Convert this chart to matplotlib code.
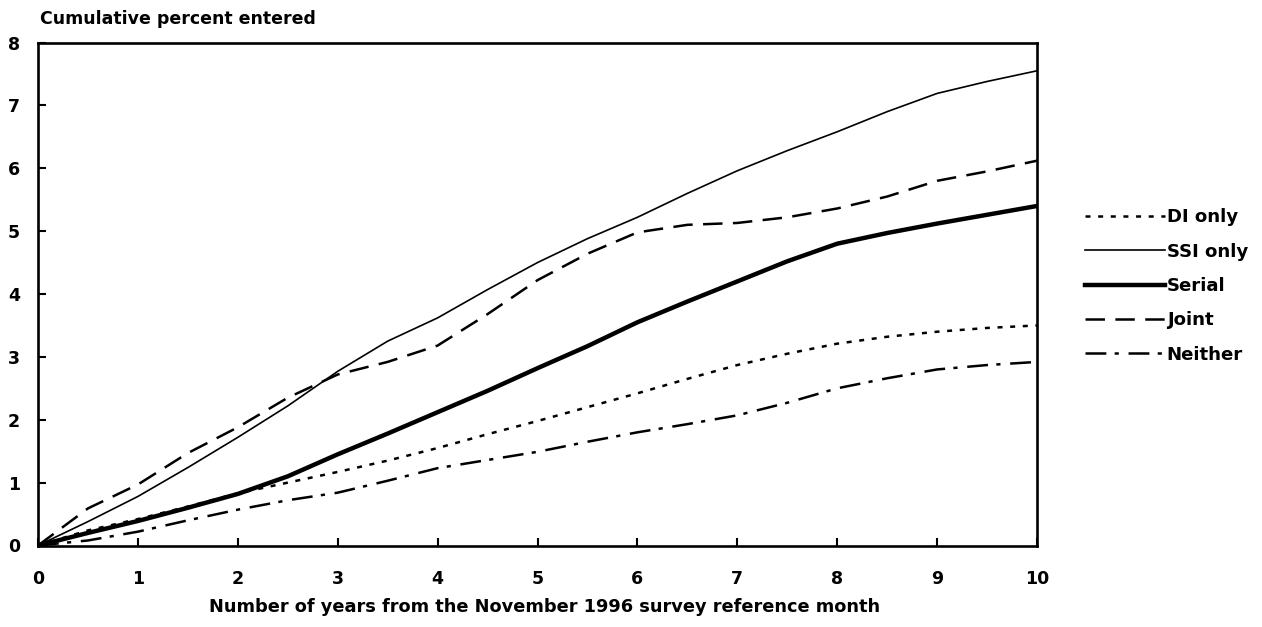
import matplotlib
matplotlib.use("Agg")
import matplotlib.pyplot as plt

plt.rcParams['font.family'] = ['DejaVu Sans']
plt.rcParams['font.weight'] = 'bold'
plt.rcParams['lines.scale_dashes'] = False

years = [0, 0.5, 1, 1.5, 2, 2.5, 3, 3.5, 4, 4.5, 5, 5.5, 6, 6.5, 7, 7.5, 8, 8.5, 9, 9.5, 10]
di_only = [0, 0.24, 0.42, 0.62, 0.83, 1.0, 1.17, 1.35, 1.55, 1.77, 1.98, 2.2, 2.42, 2.65, 2.87, 3.05, 3.21, 3.32, 3.4, 3.46, 3.5]
ssi_only = [0, 0.38, 0.78, 1.24, 1.72, 2.22, 2.77, 3.25, 3.62, 4.07, 4.5, 4.88, 5.22, 5.6, 5.96, 6.28, 6.58, 6.9, 7.19, 7.38, 7.55]
serial = [0, 0.2, 0.39, 0.6, 0.82, 1.1, 1.45, 1.78, 2.12, 2.46, 2.82, 3.17, 3.55, 3.88, 4.2, 4.52, 4.8, 4.97, 5.12, 5.26, 5.4]
joint = [0, 0.59, 0.97, 1.47, 1.88, 2.35, 2.72, 2.92, 3.18, 3.68, 4.22, 4.64, 4.98, 5.1, 5.13, 5.22, 5.36, 5.55, 5.8, 5.95, 6.12]
neither = [0, 0.08, 0.22, 0.4, 0.57, 0.72, 0.84, 1.03, 1.23, 1.36, 1.49, 1.65, 1.8, 1.93, 2.07, 2.27, 2.5, 2.66, 2.8, 2.87, 2.92]

x_ticks = list(range(0, 11))
y_ticks = list(range(0, 9))

fig = plt.figure(figsize=(12.62, 6.27), dpi=100)
ax = fig.add_axes([38/1262, 1-545.5/627, (1037-38)/1262, (545.5-42.5)/627])

ax.plot(years, di_only, color='black', lw=1.8, dashes=(3.6, 5.5), label='DI only')
ax.plot(years, ssi_only, color='black', lw=1.2, label='SSI only')
ax.plot(years, serial, color='black', lw=3.2, label='Serial')
ax.plot(years, joint, color='black', lw=1.8, dashes=(14, 7.5), label='Joint')
ax.plot(years, neither, color='black', lw=1.8, dashes=(15, 6, 3, 7), label='Neither')

ax.set_xlim(0, 10)
ax.set_ylim(0, 8)
ax.set_xticks(x_ticks)
ax.set_yticks(y_ticks)
for s in ax.spines.values():
    s.set_linewidth(1.9)
ax.tick_params(axis='both', direction='in', length=6, width=1.5, labelsize=12.5)
ax.tick_params(axis='x', pad=18)
ax.tick_params(axis='y', pad=13)
for lab in ax.get_xticklabels() + ax.get_yticklabels():
    lab.set_fontweight('bold')

fig.text(40/1262, 1-19/627, 'Cumulative percent entered', ha='left', va='center',
         fontsize=12.5, fontweight='bold')
fig.text(545/1262, 1-607/627, 'Number of years from the November 1996 survey reference month',
         ha='center', va='center', fontsize=12.8, fontweight='bold')

leg = fig.legend(loc='center left', bbox_to_anchor=(1085/1262, 1-286/627), frameon=False,
                 handlelength=4.4, handletextpad=0.1, labelspacing=0.9, borderpad=0,
                 borderaxespad=0, prop={'weight': 'bold', 'size': 13.1})

fig.savefig('out.png', dpi=100)
